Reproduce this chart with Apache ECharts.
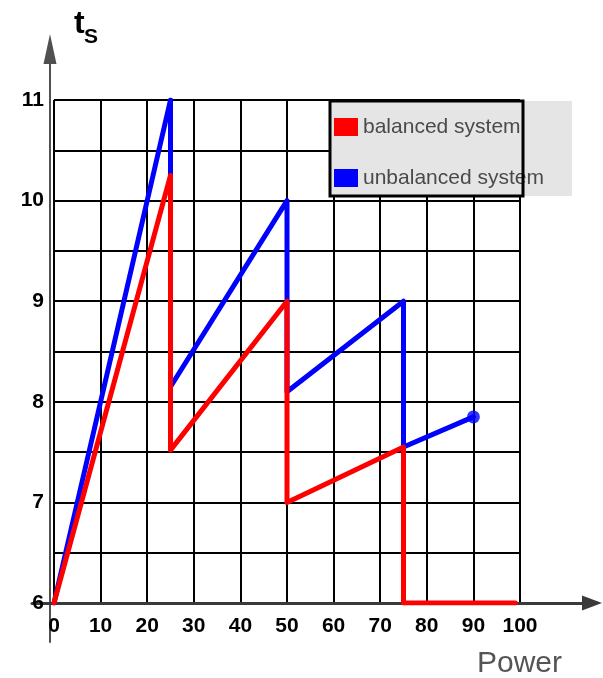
<!DOCTYPE html>
<html>
<head>
<meta charset="utf-8">
<script src="https://cdn.jsdelivr.net/npm/echarts@6/dist/echarts.min.js"></script>
<style>
html,body{margin:0;padding:0;background:#fff;}
#chart{width:603px;height:678px;}
</style>
</head>
<body>
<div id="chart"></div>
<script>
// ---- data ----
var seriesNames = ['balanced system', 'unbalanced system'];
var bluePower = [0, 25, 25, 50, 50, 75, 75, 90];
var blueTs    = [6, 11, 8.15, 10, 8.1, 9, 7.55, 7.85];
var redPower  = [0, 25, 25, 50, 50, 75, 75, 99];
var redTs     = [6, 10.25, 7.52, 9, 7, 7.55, 6, 6];
var xTickLabels = ['0','10','20','30','40','50','60','70','80','90','100'];
var yTickLabels = ['6','7','8','9','10','11'];

function pairs(xs, ys){ return xs.map(function(x,i){ return [x, ys[i]]; }); }

var FONT = '"Liberation Sans", Arial, sans-serif';
var chart = echarts.init(document.getElementById('chart'), null, {renderer:'canvas'});

var option = {
  animation: false,
  backgroundColor: '#ffffff',
  textStyle: { fontFamily: FONT },
  grid: [
    { left: 54, right: 83, top: 100, bottom: 75 },
    { left: 32, right: 11, top: 49, bottom: 36 }
  ],
  xAxis: [
    {
      gridIndex: 0, type: 'value', min: 0, max: 100, interval: 10,
      axisLine: { show: false }, axisTick: { show: false },
      axisLabel: {
        margin: 13, color: '#000', fontSize: 21, fontWeight: 'bold', fontFamily: FONT,
        formatter: function(v){ var i = xTickLabels.indexOf(String(v)); return i >= 0 ? xTickLabels[i] : ''; }
      },
      splitLine: { show: true, lineStyle: { color: '#000', width: 2 } }
    },
    {
      gridIndex: 1, type: 'value', min: -18, max: 542,
      axisLine: { show: true, onZero: true, symbol: ['none', 'triangle'], symbolSize: [15, 20],
        lineStyle: { color: '#3a3a3a', width: 3 } },
      axisTick: { show: false }, axisLabel: { show: false }, splitLine: { show: false }
    }
  ],
  yAxis: [
    {
      gridIndex: 0, type: 'value', min: 6, max: 11, interval: 0.5,
      axisLine: { show: false }, axisTick: { show: false },
      axisLabel: {
        margin: 10, color: '#000', fontSize: 21, fontWeight: 'bold', fontFamily: FONT,
        formatter: function(v){ var i = yTickLabels.indexOf(String(v)); return i >= 0 ? yTickLabels[i] : ''; }
      },
      splitLine: { show: true, lineStyle: { color: '#000', width: 2 } }
    },
    {
      gridIndex: 1, type: 'value', min: -39, max: 554,
      axisLine: { show: true, onZero: true, symbol: ['none', 'triangle'], symbolSize: [13, 30],
        lineStyle: { color: '#505050', width: 2 } },
      axisTick: { show: false }, axisLabel: { show: false }, splitLine: { show: false }
    }
  ],
  legend: {
    show: true,
    orient: 'vertical',
    left: 330, top: 101,
    padding: [12, 28, 4, 4],
    itemGap: 23,
    itemWidth: 24, itemHeight: 18,
    backgroundColor: '#e5e5e5',
    data: [
      { name: seriesNames[0], icon: 'rect' },
      { name: seriesNames[1], icon: 'rect' }
    ],
    textStyle: { color: '#4a4a4a', fontSize: 21, fontFamily: FONT, lineHeight: 24, padding: [4,0,0,0] },
    selectedMode: false
  },
  graphic: [
    { type: 'rect', z: 100, shape: { x: 330, y: 101, width: 193, height: 95 },
      style: { fill: 'none', stroke: '#000', lineWidth: 3 } },
    { type: 'text', z: 100, style: { x: 74, y: 24, text: 't', font: 'bold 32px ' + FONT, fill: '#000', verticalAlign: 'middle' } },
    { type: 'text', z: 100, style: { x: 84, y: 37, text: 'S', font: 'bold 21px ' + FONT, fill: '#000', verticalAlign: 'middle' } },
    { type: 'text', z: 100, style: { x: 477, y: 664, text: 'Power', font: '30px ' + FONT, fill: '#555', verticalAlign: 'middle' } }
  ],
  series: [
    {
      name: seriesNames[1], type: 'line', xAxisIndex: 0, yAxisIndex: 0,
      data: pairs(bluePower, blueTs), symbol: 'none',
      itemStyle: { color: '#0000ff' },
      lineStyle: { color: '#0000ff', width: 5, join: 'round', cap: 'round' }, z: 3
    },
    {
      name: seriesNames[1], type: 'scatter', xAxisIndex: 0, yAxisIndex: 0,
      data: [[bluePower[bluePower.length-1], blueTs[blueTs.length-1]]],
      symbol: 'circle', symbolSize: 13, itemStyle: { color: '#0000ff' }, z: 3
    },
    {
      name: seriesNames[0], type: 'line', xAxisIndex: 0, yAxisIndex: 0,
      data: pairs(redPower, redTs), symbol: 'none',
      itemStyle: { color: '#ff0000' },
      lineStyle: { color: '#ff0000', width: 5, join: 'round', cap: 'round' }, z: 4
    }
  ]
};
chart.setOption(option);
</script>
</body>
</html>
